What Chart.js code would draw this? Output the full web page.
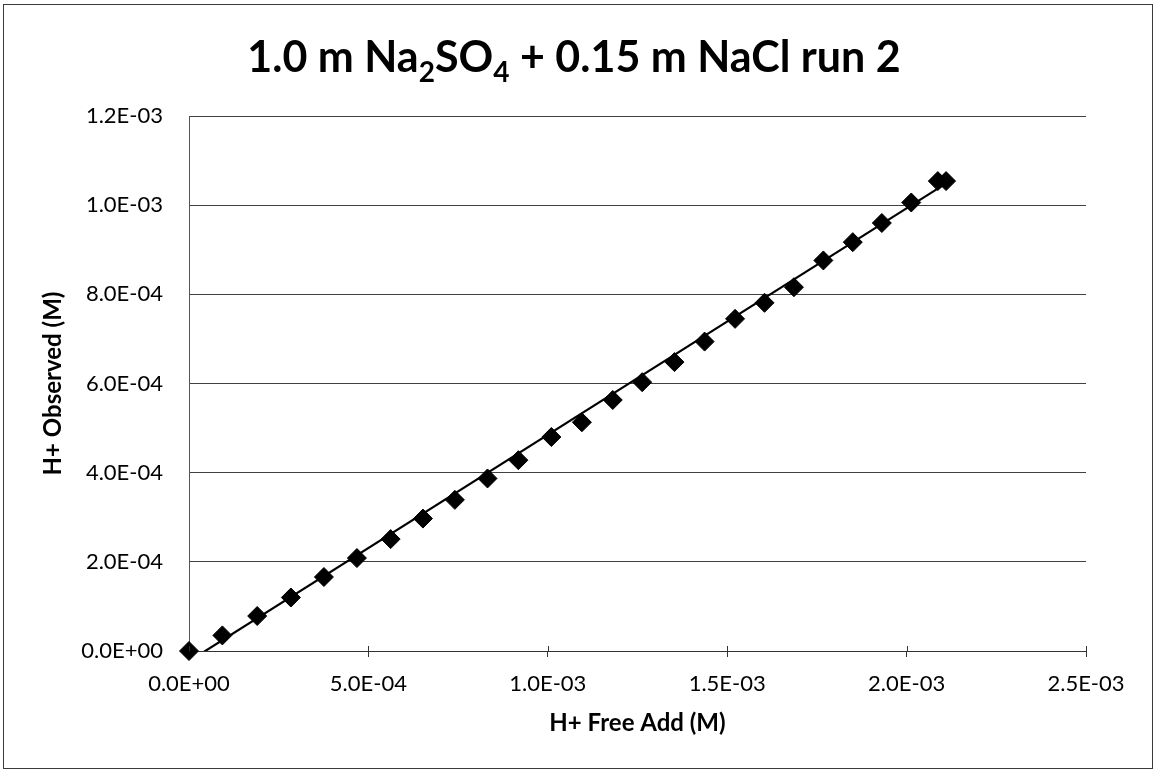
<!DOCTYPE html>
<html>
<head>
<meta charset="utf-8">
<title>1.0 m Na2SO4 + 0.15 m NaCl run 2</title>
<script src="https://cdn.jsdelivr.net/npm/chart.js@4.4.0/dist/chart.umd.min.js"></script>
<style>
    html, body { margin: 0; padding: 0; background: #fff; }
    #chartContainer { width: 1157px; height: 773px; }
</style>
</head>
<body>
<div id="chartContainer"><canvas id="hChart" width="1157" height="773"></canvas></div>
<script>
// Datos (M)
const hFreeAdd = [0, 9.3e-5, 1.9e-4, 2.84e-4, 3.76e-4, 4.68e-4, 5.62e-4, 6.52e-4, 7.41e-4, 8.32e-4,
    9.18e-4, 1.01e-3, 1.095e-3, 1.181e-3, 1.263e-3, 1.353e-3, 1.437e-3, 1.522e-3, 1.604e-3,
    1.686e-3, 1.768e-3, 1.85e-3, 1.931e-3, 2.013e-3, 2.087e-3, 2.11e-3];
const hObserved = [0, 3.5e-5, 7.85e-5, 1.2e-4, 1.66e-4, 2.085e-4, 2.51e-4, 2.97e-4, 3.39e-4, 3.87e-4,
    4.28e-4, 4.8e-4, 5.13e-4, 5.63e-4, 6.03e-4, 6.48e-4, 6.94e-4, 7.45e-4, 7.81e-4,
    8.16e-4, 8.76e-4, 9.17e-4, 9.6e-4, 1.006e-3, 1.054e-3, 1.054e-3];

// Línea de tendencia (extremos)
const trendX = [0, 2.11e-3];
const trendY = [-2.3e-5, 1.049e-3];

// Ejes
const xTicks = [0, 5e-4, 1e-3, 1.5e-3, 2e-3, 2.5e-3];
const xTickLabels = ['0.0E+00', '5.0E-04', '1.0E-03', '1.5E-03', '2.0E-03', '2.5E-03'];
const yTicks = [0, 2e-4, 4e-4, 6e-4, 8e-4, 1e-3, 1.2e-3];
const yTickLabels = ['0.0E+00', '2.0E-04', '4.0E-04', '6.0E-04', '8.0E-04', '1.0E-03', '1.2E-03'];

// Título con subíndices
const titleParts = [
    { text: '1.0 m Na', sub: false },
    { text: '2', sub: true },
    { text: 'SO', sub: false },
    { text: '4', sub: true },
    { text: ' + 0.15 m NaCl run 2', sub: false }
];

const fontFamily = 'Lato, "Open Sans", sans-serif';

// Marco exterior y fondo
const framePlugin = {
    id: 'frame',
    beforeDraw(chart) {
        const ctx = chart.ctx;
        ctx.save();
        ctx.fillStyle = '#fff';
        ctx.fillRect(0, 0, chart.width, chart.height);
        ctx.restore();
    },
    afterDraw(chart) {
        const ctx = chart.ctx;
        ctx.save();
        ctx.strokeStyle = '#3a3a3a';
        ctx.lineWidth = 1;
        ctx.strokeRect(3.5, 4.5, 1149, 764);
        ctx.restore();
    }
};

// Título dibujado a mano por los subíndices
const titlePlugin = {
    id: 'subTitle',
    afterDraw(chart) {
        const ctx = chart.ctx;
        const mainFont = 'bold 43px ' + fontFamily;
        const subFont = 'bold 28px ' + fontFamily;
        ctx.save();
        let total = 0;
        titleParts.forEach(p => {
            ctx.font = p.sub ? subFont : mainFont;
            total += ctx.measureText(p.text).width;
        });
        let x = 574 - total / 2;
        const baseY = 72;
        ctx.fillStyle = '#000';
        ctx.textBaseline = 'alphabetic';
        ctx.textAlign = 'left';
        titleParts.forEach(p => {
            ctx.font = p.sub ? subFont : mainFont;
            ctx.fillText(p.text, x, p.sub ? baseY + 10 : baseY);
            x += ctx.measureText(p.text).width;
        });
        ctx.restore();
    }
};

// Marcas del eje X que cruzan el eje (parte interior)
const crossTicksPlugin = {
    id: 'crossTicks',
    afterDatasetsDraw(chart) {
        const ctx = chart.ctx;
        const xs = chart.scales.x;
        const bottom = chart.chartArea.bottom;
        ctx.save();
        ctx.strokeStyle = '#333';
        ctx.lineWidth = 1;
        xTicks.forEach(v => {
            const px = Math.round(xs.getPixelForValue(v)) + 0.5;
            ctx.beginPath();
            ctx.moveTo(px, bottom);
            ctx.lineTo(px, bottom - 5);
            ctx.stroke();
        });
        ctx.restore();
    }
};

const points = hFreeAdd.map((x, i) => ({ x: x, y: hObserved[i] }));
const trend = trendX.map((x, i) => ({ x: x, y: trendY[i] }));

const ctx = document.getElementById('hChart').getContext('2d');
const hChart = new Chart(ctx, {
    type: 'scatter',
    data: {
        datasets: [
            {
                label: 'H+ Observed',
                data: points,
                pointStyle: 'rectRot',
                pointRadius: 9.5,
                backgroundColor: '#000',
                borderColor: '#000',
                borderWidth: 1,
                clip: false
            },
            {
                label: 'Linear',
                data: trend,
                showLine: true,
                pointRadius: 0,
                borderColor: '#000',
                borderWidth: 2.2,
                fill: false
            }
        ]
    },
    options: {
        responsive: false,
        animation: false,
        layout: {
            padding: { left: 10, top: 116, right: 71, bottom: 20 }
        },
        plugins: {
            legend: { display: false },
            tooltip: { enabled: false },
            title: { display: false }
        },
        scales: {
            x: {
                type: 'linear',
                min: 0,
                max: 2.5e-3,
                afterBuildTicks: scale => { scale.ticks = xTicks.map(v => ({ value: v })); },
                afterFit: scale => { scale.height = 102; },
                grid: {
                    drawOnChartArea: false,
                    drawTicks: true,
                    tickLength: 6,
                    color: '#333'
                },
                border: { display: true, color: '#333', width: 1 },
                ticks: {
                    padding: 14,
                    maxRotation: 0,
                    autoSkip: false,
                    color: '#000',
                    font: { family: fontFamily, size: 22 },
                    callback: (v, i) => xTickLabels[i]
                },
                title: {
                    display: true,
                    text: 'H+ Free Add (M)',
                    color: '#000',
                    font: { family: fontFamily, size: 24, weight: 'bold' },
                    padding: { top: 0, bottom: 15 }
                }
            },
            y: {
                type: 'linear',
                min: 0,
                max: 1.2e-3,
                afterBuildTicks: scale => { scale.ticks = yTicks.map(v => ({ value: v })); },
                afterFit: scale => { scale.width = 179; },
                grid: {
                    drawTicks: false,
                    color: '#404040',
                    lineWidth: 1
                },
                border: { display: true, color: '#555', width: 1 },
                ticks: {
                    padding: 26,
                    autoSkip: false,
                    color: '#000',
                    font: { family: fontFamily, size: 22 },
                    callback: (v, i) => yTickLabels[i]
                },
                title: {
                    display: true,
                    text: 'H+ Observed (M)',
                    color: '#000',
                    font: { family: fontFamily, size: 24, weight: 'bold' },
                    padding: { top: 29, bottom: 0 }
                }
            }
        }
    },
    plugins: [framePlugin, titlePlugin, crossTicksPlugin]
});
</script>
</body>
</html>
